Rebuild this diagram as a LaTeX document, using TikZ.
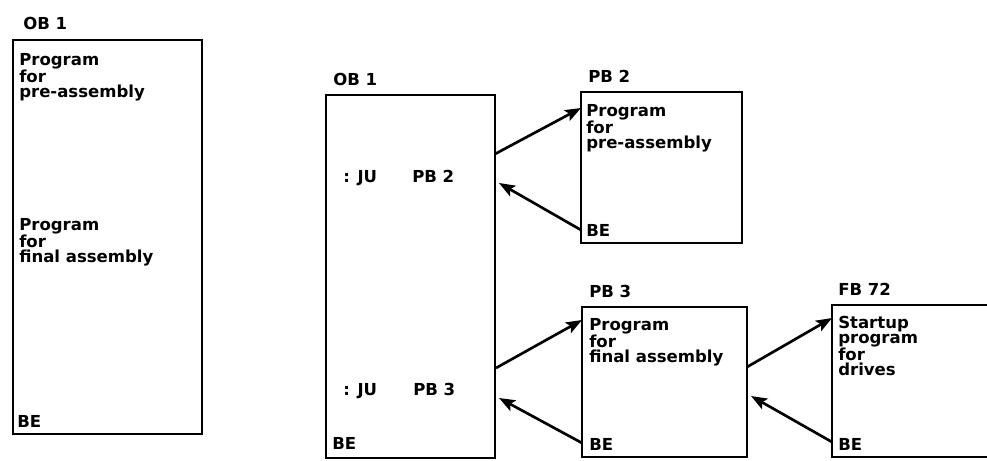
\documentclass[tikz,border=0pt]{standalone}
\usepackage{fontspec}
\setmainfont{DejaVu Sans}
\usetikzlibrary{calc,arrows.meta}
\begin{document}
\begin{tikzpicture}[x=0.75pt,y=-0.75pt,
  blk/.style={draw, line width=2pt, inner sep=0pt, outer sep=0pt, anchor=north west},
  txt/.style={font=\bfseries\fontsize{12.4}{11.2}\selectfont, inner sep=0pt, align=left},
  conn/.style={line width=2pt, -{Stealth[length=12pt,width=9pt,inset=2.5pt]}}]
\useasboundingbox (0,0) rectangle (987,460);
\node[blk, minimum width=141.75pt, minimum height=295.5pt] (ob1a) at (13,40) {};
\node[blk, minimum width=126.75pt, minimum height=272.25pt] (ob1b) at (326,95) {};
\node[blk, minimum width=120.75pt, minimum height=113.25pt] (pb2) at (581,92) {};
\node[blk, minimum width=123.75pt, minimum height=112.5pt] (pb3) at (582,307) {};
\node[inner sep=0pt, outer sep=0pt, anchor=north west, minimum width=116.25pt, minimum height=114pt] (fb72) at (832,305) {};
\draw[line width=2pt] (fb72.north east) -- (fb72.north west) -- (fb72.south west) -- (fb72.south east);
\node[txt, anchor=base west] (ob1atitle) at ($(ob1a.north west)+(10,-10)$) {OB 1};
\node[txt, anchor=base west] (ob1btitle) at ($(ob1b.north west)+(7,-10)$) {OB 1};
\node[txt, anchor=base west] (pb2title) at ($(pb2.north west)+(7,-10)$) {PB 2};
\node[txt, anchor=base west] (pb3title) at ($(pb3.north west)+(7,-10)$) {PB 3};
\node[txt, anchor=base west] (fb72title) at ($(fb72.north west)+(6,-10)$) {FB 72};
\node[txt, anchor=north west] (ob1apre) at ($(ob1a.north west)+(6,13)$) {Program\\for\\pre-assembly};
\node[txt, anchor=north west] (ob1afin) at ($(ob1a.north west)+(6,178)$) {Program\\for\\final assembly};
\node[txt, anchor=base west] (ob1abe) at ($(ob1a.south west)+(4,-7)$) {BE};
\node[txt, anchor=base west] (ju2) at ($(ob1b.north west)+(17,87)$) {: JU};
\node[txt, anchor=base west] (call2) at ($(ob1b.north west)+(86,87)$) {PB 2};
\node[txt, anchor=base west] (ju3) at ($(ob1b.north west)+(17,300)$) {: JU};
\node[txt, anchor=base west] (call3) at ($(ob1b.north west)+(87,300)$) {PB 3};
\node[txt, anchor=base west] (ob1bbe) at ($(ob1b.south west)+(6,-9)$) {BE};
\node[txt, anchor=north west] (pb2text) at ($(pb2.north west)+(5,12)$) {Program\\for\\pre-assembly};
\node[txt, anchor=base west] (pb2be) at ($(pb2.south west)+(5,-7)$) {BE};
\node[txt, anchor=north west] (pb3text) at ($(pb3.north west)+(7,11)$) {Program\\for\\final assembly};
\node[txt, anchor=base west] (pb3be) at ($(pb3.south west)+(7,-7)$) {BE};
\node[txt, anchor=north west] (fb72text) at ($(fb72.north west)+(6,11)$) {Startup\\program\\for\\drives};
\node[txt, anchor=base west] (fb72be) at ($(fb72.south west)+(6,-7)$) {BE};
\draw[conn] ($(ob1b.north east)+(0,59)$) -- ($(pb2.north west)+(0,16)$);
\draw[conn] ($(pb2.south west)+(0,-13)$) -- ($(ob1b.north east)+(4,88)$);
\draw[conn] ($(ob1b.north east)+(1,273)$) -- ($(pb3.north west)+(0,13)$);
\draw[conn] ($(pb3.south west)+(0,-14)$) -- ($(ob1b.north east)+(4,303)$);
\draw[conn] ($(pb3.north east)+(0,60)$) -- ($(fb72.north west)+(0,13)$);
\draw[conn] ($(fb72.south west)+(0,-15)$) -- ($(pb3.north east)+(4,89)$);
\end{tikzpicture}
\end{document}
